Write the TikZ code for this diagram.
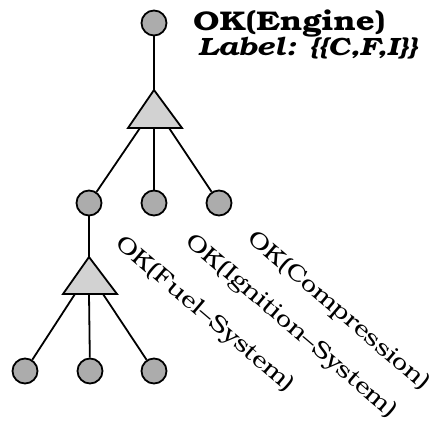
\documentclass[tikz,border=0pt]{standalone}
\usepackage{fontspec}
\setmainfont{texgyrebonum}[Extension=.otf, UprightFont=*-regular, BoldFont=*-bold, ItalicFont=*-italic, BoldItalicFont=*-bolditalic]
\newfontfamily\bonumwide{texgyrebonum}[Extension=.otf, UprightFont=*-regular, BoldFont=*-bold, ItalicFont=*-italic, BoldItalicFont=*-bolditalic, FakeStretch=1.22]
\newfontfamily\bonumrot{texgyrebonum}[Extension=.otf, UprightFont=*-regular, BoldFont=*-bold, ItalicFont=*-italic, BoldItalicFont=*-bolditalic, FakeStretch=1.18]
\begin{document}
\begin{tikzpicture}[x=1pt,y=-1pt,
  conn/.style={line width=1.8pt},
  leaf/.style={circle, draw, line width=1.8pt, fill=gray!65, minimum size=25pt, inner sep=0pt},
  tri/.style={draw, line width=1.8pt, fill=gray!35, line join=miter},
  lab/.style={rotate=-40.5, anchor=base west, inner sep=0pt, font=\bonumrot\fontsize{23.2}{25}\selectfont}]
\useasboundingbox (0,0) rectangle (437,425);
% coordinates of triangles
\coordinate (t1a) at (154,90);
\coordinate (t1l) at (128,128);
\coordinate (t1r) at (182,128);
\coordinate (t1s1) at (140,128);
\coordinate (t1s2) at (154,128);
\coordinate (t1s3) at (169,128);
\coordinate (t2a) at (89,257);
\coordinate (t2l) at (63,294);
\coordinate (t2r) at (117,294);
\coordinate (t2s1) at (75,294);
\coordinate (t2s2) at (89,294);
\coordinate (t2s3) at (103,294);
% nodes
\node[leaf] (top) at (154,23) {};
\node[leaf] (m1) at (89,203) {};
\node[leaf] (m2) at (154,203) {};
\node[leaf] (m3) at (219,203) {};
\node[leaf] (b1) at (25,371) {};
\node[leaf] (b2) at (90,371) {};
\node[leaf] (b3) at (154,371) {};
% connectors
\draw[conn] (top) -- (t1a);
\draw[conn] (t1s1) -- (m1);
\draw[conn] (t1s2) -- (m2);
\draw[conn] (t1s3) -- (m3);
\draw[conn] (m1) -- (t2a);
\draw[conn] (t2s1) -- (b1);
\draw[conn] (t2s2) -- (b2);
\draw[conn] (t2s3) -- (b3);
% triangles
\draw[tri] (t1a) -- (t1r) -- (t1l) -- cycle;
\draw[tri] (t2a) -- (t2r) -- (t2l) -- cycle;
% labels
\node[anchor=base west, inner sep=0pt, font=\bonumwide\bfseries\fontsize{27}{29}\selectfont] (eng) at (193,31) {OK(Engine)};
\node[anchor=base west, inner sep=0pt, font=\bonumwide\bfseries\itshape\fontsize{25}{27}\selectfont] (lbl) at (198,56) {Label: \{\{C,F,I\}\}};
\node[lab] (l1) at (114,245) {OK(Fuel–System)};
\node[lab] (l2) at (184,243) {OK(Ignition–System)};
\node[lab] (l3) at (246,240) {OK(Compression)};
\end{tikzpicture}
\end{document}
